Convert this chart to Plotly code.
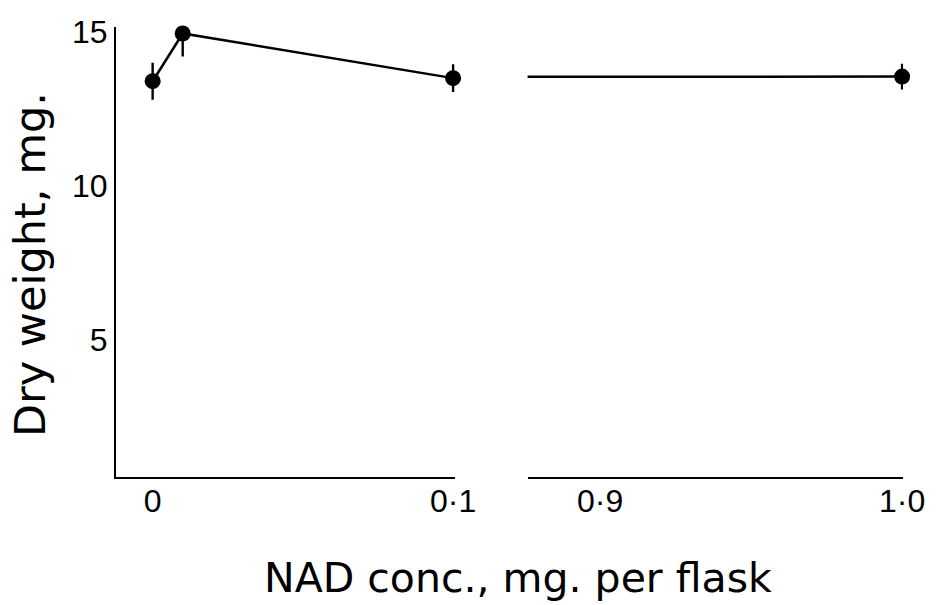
import plotly.graph_objects as go
from plotly.subplots import make_subplots

# NAD concentration (mg per flask) and mean dry weight (mg) with error half-widths
nad_conc = [0.0, 0.01, 0.1, 1.0]
dry_weight = [13.4, 14.95, 13.5, 13.55]
err = [0.6, 0.75, 0.45, 0.42]

# axis ticks
y_ticks = [5, 10, 15]
left_ticks = [0.0, 0.1]
left_tick_text = ["0", "0·1"]
right_ticks = [0.9, 1.0]
right_tick_text = ["0·9", "1·0"]

INK = "black"
TICK_FONT = dict(family="Liberation Sans, Arial", size=32, color=INK)
XTITLE_FONT = dict(family="DejaVu Sans, Verdana", size=41, color=INK)
YTITLE_FONT = dict(family="DejaVu Sans, Verdana", size=43, color=INK)

fig = make_subplots(rows=1, cols=2, shared_yaxes=True, horizontal_spacing=0.09,
                    column_widths=[0.431, 0.477])

left_idx = [0, 1, 2]
# left panel: connecting line
fig.add_trace(go.Scatter(
    x=[nad_conc[i] for i in left_idx], y=[dry_weight[i] for i in left_idx],
    mode="lines", line=dict(color=INK, width=2.5), showlegend=False, hoverinfo="skip"),
    row=1, col=1)
# right panel: line continuing from 0.1 across the break to 1.0 (clipped at the axis start)
fig.add_trace(go.Scatter(
    x=[nad_conc[2], nad_conc[3]], y=[dry_weight[2], dry_weight[3]],
    mode="lines", line=dict(color=INK, width=2.5), showlegend=False, hoverinfo="skip"),
    row=1, col=2)

# points with error bars
fig.add_trace(go.Scatter(
    x=[nad_conc[i] for i in left_idx], y=[dry_weight[i] for i in left_idx],
    mode="markers", marker=dict(color=INK, size=16),
    error_y=dict(type="data", array=[err[i] for i in left_idx], color=INK, thickness=2.4, width=0),
    cliponaxis=False, showlegend=False),
    row=1, col=1)
fig.add_trace(go.Scatter(
    x=[nad_conc[3]], y=[dry_weight[3]],
    mode="markers", marker=dict(color=INK, size=16),
    error_y=dict(type="data", array=[err[3]], color=INK, thickness=2.4, width=0),
    cliponaxis=False, showlegend=False),
    row=1, col=2)

axis_common = dict(showgrid=False, zeroline=False, showline=True, linecolor=INK, linewidth=2.2,
                   ticks="", tickfont=TICK_FONT)

fig.update_xaxes(range=[-0.0122, 0.1007], tickvals=left_ticks, ticktext=left_tick_text,
                 domain=[0, 0.431], ticklabelstandoff=-6, **axis_common, row=1, col=1)
fig.update_xaxes(range=[0.876, 1.0003], tickvals=right_ticks, ticktext=right_tick_text,
                 domain=[0.523, 1.0], ticklabelstandoff=-6, **axis_common, row=1, col=2)
fig.update_yaxes(range=[0.55, 15.16], tickvals=y_ticks, ticktext=[str(v) for v in y_ticks],
                 ticklabelstandoff=0, **axis_common, row=1, col=1)
fig.update_yaxes(showline=False, showticklabels=False, showgrid=False, zeroline=False,
                 row=1, col=2)

fig.add_annotation(text="NAD conc., mg. per flask", xref="paper", yref="paper",
                   x=0.511, y=0, yshift=-101, xanchor="center", yanchor="middle",
                   showarrow=False, font=XTITLE_FONT)
fig.add_annotation(text="Dry weight, mg.", xref="paper", yref="paper",
                   x=0, xshift=-86, y=0.471, xanchor="center", yanchor="middle",
                   textangle=-90, showarrow=False, font=YTITLE_FONT)

fig.update_layout(width=937, height=605, margin=dict(l=116, r=30, t=27, b=128),
                  paper_bgcolor="white", plot_bgcolor="white")

fig.write_html("out.html")
